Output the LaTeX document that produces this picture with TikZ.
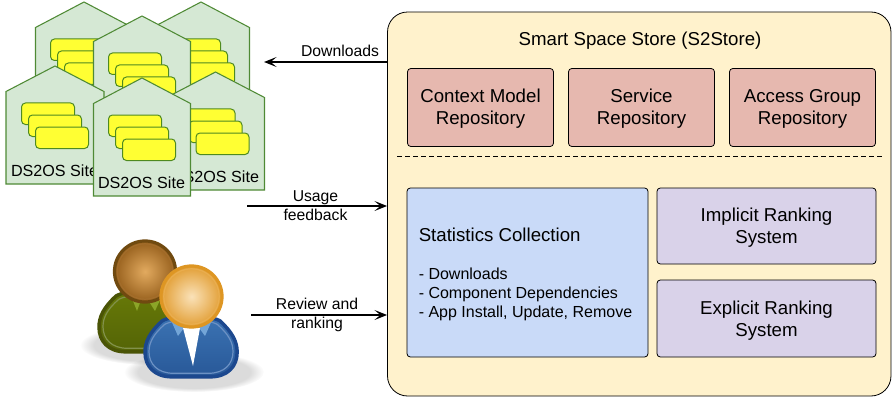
\documentclass[tikz,border=0pt]{standalone}
\usepackage{fontspec}
\setmainfont{Liberation Sans}
\usetikzlibrary{arrows.meta,calc,fadings}
\definecolor{housefill}{HTML}{D5E8D4}
\definecolor{houseline}{HTML}{4F8A35}
\definecolor{card}{HTML}{FFFF33}
\definecolor{cardline}{HTML}{4F8A20}
\definecolor{cream}{HTML}{FFF2CC}
\definecolor{redbox}{HTML}{E6B8AF}
\definecolor{bluebox}{HTML}{C9DAF8}
\definecolor{purplebox}{HTML}{D9D2E9}
\definecolor{oliveedge}{RGB}{74,84,6}
\definecolor{olivetop}{RGB}{104,122,8}
\definecolor{olivebot}{RGB}{84,100,6}
\definecolor{olivering}{RGB}{130,145,75}
\definecolor{olivecollar}{RGB}{140,165,40}
\definecolor{brownedge}{RGB}{112,74,16}
\definecolor{brownring}{RGB}{168,116,52}
\definecolor{browninner}{RGB}{226,170,95}
\definecolor{brownouter}{RGB}{150,95,28}
\definecolor{blueedge}{RGB}{28,72,142}
\definecolor{bluetop}{RGB}{60,116,180}
\definecolor{bluebot}{RGB}{40,88,152}
\definecolor{bluering}{RGB}{108,145,196}
\definecolor{bluecollar}{RGB}{115,165,215}
\definecolor{orangeedge}{RGB}{222,150,35}
\definecolor{orangering}{RGB}{238,182,92}
\definecolor{orangeinner}{RGB}{250,226,185}
\definecolor{orangeouter}{RGB}{226,158,52}
\tikzset{
  x=0.75pt,y=-0.75pt,
  house/.style={draw=houseline,fill=housefill,line width=0.8pt,line join=miter},
  cardbox/.style={draw=cardline,fill=card,line width=0.75pt,rounded corners=3pt},
  panel/.style={draw=black,line width=0.6pt,rounded corners=2.5pt,align=center,font=\fontsize{14}{16.5}\selectfont,inner sep=0pt},
  flow/.style={draw=black,line width=1pt,-{Stealth[length=9.5pt,width=7.5pt,inset=4.5pt]}},
  flowlabel/.style={font=\fontsize{11.8}{14}\selectfont,align=center,inner sep=0pt},
  sitelabel/.style={font=\fontsize{12.1}{14}\selectfont,inner sep=0pt},
  softshadow/.style={fill=black,opacity=0.14,path fading=circle with fuzzy edge 20 percent},
}
% apex x, apex y, half width: house outline and its three cards
\newcommand{\sitehouse}[3]{%
  \draw[house] (#1,#2) -- (#1+#3,#2+25.5) -- (#1+#3,#2+118) -- (#1-#3,#2+118) -- (#1-#3,#2+25.5) -- cycle;
  \draw[cardbox] (#1-33.5,#2+37) rectangle (#1+19.5,#2+58.5);
  \draw[cardbox] (#1-26.5,#2+49) rectangle (#1+26.5,#2+70.5);
  \draw[cardbox] (#1-19.5,#2+61) rectangle (#1+33.5,#2+82.5);
}
% left x, top y, width scale, height scale, style (base outline is 96 x 63)
\newcommand{\bodyshape}[5]{%
  \path[#5,shift={(#1,#2)},xscale=#3,yscale=#4] (18,4) .. controls (5,16) and (0,26) .. (0,37)
    .. controls (0,52) and (10,63) .. (28,63)
    -- (68,63) .. controls (86,63) and (96,52) .. (96,37)
    .. controls (96,26) and (91,16) .. (78,4)
    .. controls (65,-3) and (31,-3) .. (18,4) -- cycle;
}
\begin{document}
\begin{tikzpicture}
\useasboundingbox (0,0) rectangle (896,403);
% sites
\sitehouse{84}{2}{48.5}
\sitehouse{201}{2}{48.5}
\sitehouse{142}{16}{48.5}
\sitehouse{55}{66}{49}
\node[sitelabel] (siteD) at (54.5,171) {DS2OS Site};
\sitehouse{215.5}{72}{49}
\node[sitelabel] (siteE) at (215.5,176.5) {DS2OS Site};
\sitehouse{142}{78}{48.5}
\node[sitelabel] (siteF) at (141.5,182.5) {DS2OS Site};
% users: soft shadows
\path[softshadow] (150,345) ellipse (52.5pt and 15pt);
\path[softshadow] (194,372) ellipse (52.5pt and 15pt);
% back user
\bodyshape{99}{292}{0.96}{0.95}{draw=oliveedge,line width=2.6pt,top color=olivetop,bottom color=olivebot}
\bodyshape{103}{296}{0.875}{0.83}{draw=olivering,line width=0.9pt}
\fill[olivecollar] (131,296) -- (137,311) -- (141,300) -- cycle;
\fill[olivecollar] (160,300) -- (155,311) -- (148,300) -- cycle;
\shade[draw=brownedge,line width=2.4pt,inner color=browninner,outer color=brownouter] (145,271.5) circle (22.9pt);
\draw[brownring,line width=0.9pt,opacity=0.5] (145,271.5) circle (20.8pt);
% front user
\bodyshape{145}{317}{0.96}{0.95}{draw=blueedge,line width=2.6pt,top color=bluetop,bottom color=bluebot}
\bodyshape{149}{321}{0.875}{0.83}{draw=bluering,line width=0.9pt}
\fill[bluecollar] (170,318) -- (178,336) -- (186,325) -- cycle;
\fill[bluecollar] (213,318) -- (205,336) -- (197,325) -- cycle;
\fill[white] (183,328) -- (193,366) -- (200,328) -- cycle;
\shade[draw=orangeedge,line width=2.4pt,inner color=orangeinner,outer color=orangeouter] (191.5,296.5) circle (22.9pt);
\draw[orangering,line width=0.9pt,opacity=0.5] (191.5,296.5) circle (20.8pt);
% store
\node[panel,fill=cream,rounded corners=15pt,minimum width=377.6pt,minimum height=288pt] (store) at (639.25,204) {};
\node[font=\fontsize{14}{16}\selectfont,inner sep=0pt] (title) at (640,40.5) {Smart Space Store (S2Store)};
\node[panel,fill=redbox,minimum width=109.5pt,minimum height=58.5pt] (ctx) at (480.5,107.5) {};
\node[panel,fill=redbox,minimum width=109.5pt,minimum height=58.5pt] (svc) at (641.5,107.5) {};
\node[panel,fill=redbox,minimum width=109.5pt,minimum height=58.5pt] (acc) at (802.5,107.5) {};
\node[panel,draw=none,rounded corners=0pt] (ctxT) at (480.5,109) {Context Model\\Repository};
\node[panel,draw=none,rounded corners=0pt] (svcT) at (641.5,109) {Service\\Repository};
\node[panel,draw=none,rounded corners=0pt] (accT) at (802.5,109) {Access Group\\Repository};
\coordinate (dashL) at (397,156.5);
\coordinate (dashR) at (884,156.5);
\draw[black,line width=0.6pt,dash pattern=on 3.7pt off 2.3pt] (dashL) -- (dashR);
\node[panel,fill=bluebox,minimum width=180.75pt,minimum height=126.75pt] (stats) at (527.5,272.5) {};
\node[font=\fontsize{14}{16}\selectfont,inner sep=0pt,anchor=west] (statsT) at (418.5,235) {Statistics Collection};
\node[font=\fontsize{12}{14.25}\selectfont,inner sep=0pt,anchor=north west,align=left] (statsL) at (418.5,268) {- Downloads\\- Component Dependencies\\- App Install, Update, Remove};
\node[panel,fill=purplebox,minimum width=164.25pt,minimum height=57pt] (impl) at (766.5,226) {};
\node[panel,fill=purplebox,minimum width=164.25pt,minimum height=57.75pt] (expl) at (766.5,318.5) {};
\node[panel,draw=none,rounded corners=0pt] (implT) at (766.5,228) {Implicit Ranking\\System};
\node[panel,draw=none,rounded corners=0pt] (explT) at (766.5,321) {Explicit Ranking\\System};
% connectors
\coordinate (dlEnd) at (264,62);
\coordinate (fbStart) at (247,206);
\coordinate (rvStart) at (251,315);
\draw[flow] (store.west |- dlEnd) -- (dlEnd);
\draw[flow] (fbStart) -- (store.west |- fbStart);
\draw[flow] (rvStart) -- (store.west |- rvStart);
\node[flowlabel] (dlLabel) at (340,51) {Downloads};
\node[flowlabel] (fbLabel) at (315.5,205.5) {Usage\\feedback};
\node[flowlabel] (rvLabel) at (317,315) {Review and\\ranking};
\end{tikzpicture}
\end{document}
